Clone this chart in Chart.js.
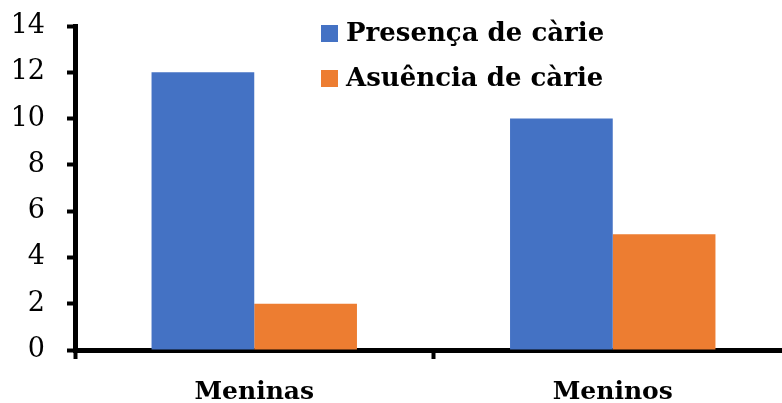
<!DOCTYPE html>
<html>
<head>
<meta charset="utf-8">
<script src="https://cdn.jsdelivr.net/npm/chart.js@4.4.1/dist/chart.umd.min.js"></script>
<style>
  html, body { margin: 0; padding: 0; background: #fff; overflow: hidden; }
  #wrap { width: 792px; height: 403px; }
</style>
</head>
<body>
<div id="wrap"><canvas id="c" width="792" height="403"></canvas></div>
<script>
const categories = ['Meninas', 'Meninos'];
const seriesNames = ['Presença de càrie', 'Asuência de càrie'];
const presenca = [12, 10];
const ausencia = [2, 5];
const yTicks = [0, 2, 4, 6, 8, 10, 12, 14];

const SERIF = '"DejaVu Serif", "Liberation Serif", serif';

// Legend drawn inside the plot area, upper right
const innerLegend = {
  id: 'innerLegend',
  afterDraw(chart) {
    const ctx = chart.ctx;
    const x0 = 321, y0 = 25, rowH = 45, box = 17;
    ctx.save();
    ctx.font = 'bold 26px ' + SERIF;
    ctx.textBaseline = 'middle';
    ctx.textAlign = 'left';
    chart.data.datasets.forEach((ds, i) => {
      const y = y0 + i * rowH;
      ctx.fillStyle = ds.backgroundColor;
      ctx.fillRect(x0, y, box, box);
      ctx.fillStyle = '#000';
      ctx.fillText(ds.label, x0 + 25, y + box / 2 + 1);
    });
    ctx.restore();
  }
};

new Chart(document.getElementById('c'), {
  type: 'bar',
  data: {
    labels: categories,
    datasets: [
      { label: seriesNames[0], data: presenca, backgroundColor: '#4472C4' },
      { label: seriesNames[1], data: ausencia, backgroundColor: '#ED7D31' }
    ]
  },
  options: {
    responsive: false,
    animation: false,
    devicePixelRatio: 1,
    layout: { padding: 0 },
    categoryPercentage: 0.573,
    barPercentage: 1.0,
    plugins: { legend: { display: false }, tooltip: { enabled: false } },
    scales: {
      x: {
        grid: { display: true, drawOnChartArea: false, drawTicks: true, tickLength: 9, tickWidth: 4, color: '#000', offset: true },
        border: { display: true, color: '#000', width: 5 },
        ticks: { color: '#000', font: { family: SERIF, size: 25, weight: 'bold' }, padding: 18 },
        afterFit(scale) { scale.height = 53; scale.paddingLeft = 0; scale.paddingRight = 0; }
      },
      y: {
        min: 0, max: 14,
        afterBuildTicks(scale) { scale.ticks = yTicks.map(v => ({ value: v })); },
        grid: { display: true, drawOnChartArea: false, drawTicks: true, tickLength: 8, tickWidth: 4, color: '#000' },
        border: { display: true, color: '#000', width: 5 },
        ticks: { color: '#000', font: { family: SERIF, size: 27 }, padding: 22 },
        afterFit(scale) { scale.width = 75; scale.paddingTop = 26; scale.paddingBottom = 0; }
      }
    }
  },
  plugins: [innerLegend]
});
</script>
</body>
</html>
